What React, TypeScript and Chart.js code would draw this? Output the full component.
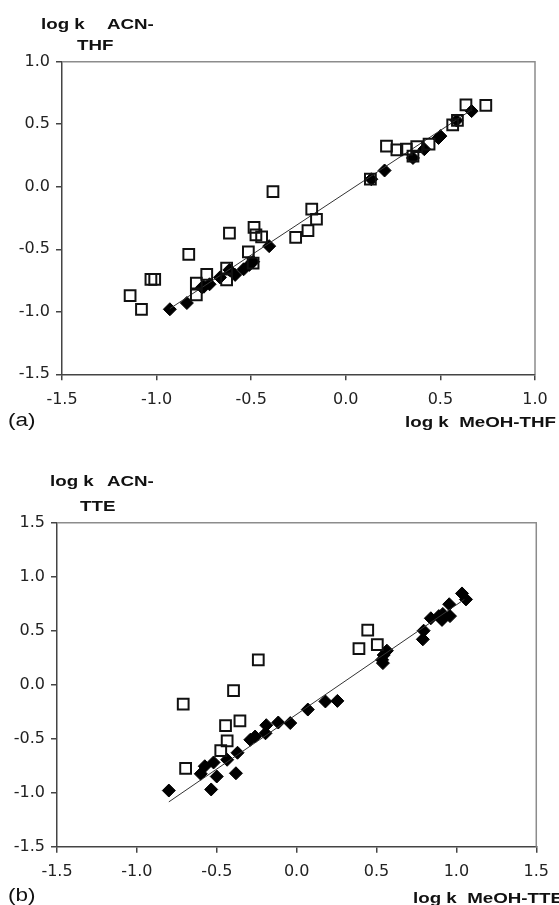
import React, { useEffect, useRef } from "react";
import { Chart, registerables } from "chart.js";

Chart.register(...registerables);

// ---------- Panel (a): log k ACN-THF vs log k MeOH-THF ----------
const aOpenX = [-1.14, -1.08, -1.03, -1.01, -0.83, -0.79, -0.735, -0.79, -0.615, -0.63, -0.63, -0.515, -0.485, -0.475, -0.445, -0.49, -0.385, -0.265, -0.18, -0.155, -0.2, 0.13, 0.215, 0.27, 0.32, 0.375, 0.355, 0.44, 0.565, 0.59, 0.635, 0.74];
const aOpenY = [-0.87, -0.98, -0.74, -0.74, -0.54, -0.77, -0.7, -0.865, -0.37, -0.65, -0.745, -0.52, -0.325, -0.385, -0.4, -0.61, -0.04, -0.405, -0.18, -0.26, -0.35, 0.06, 0.325, 0.295, 0.3, 0.32, 0.245, 0.34, 0.495, 0.53, 0.655, 0.65];
const aFilledX = [-0.93, -0.84, -0.76, -0.75, -0.72, -0.665, -0.615, -0.585, -0.54, -0.51, -0.49, -0.405, 0.135, 0.205, 0.355, 0.415, 0.49, 0.5, 0.585, 0.665];
const aFilledY = [-0.98, -0.93, -0.805, -0.8, -0.78, -0.725, -0.665, -0.705, -0.66, -0.625, -0.6, -0.475, 0.06, 0.13, 0.23, 0.3, 0.39, 0.405, 0.53, 0.605];
const aFitX = [-0.93, 0.665];
const aFitY = [-0.975, 0.615];
const aTicksX = [-1.5, -1.0, -0.5, 0.0, 0.5, 1.0];
const aTicksY = [-1.5, -1.0, -0.5, 0.0, 0.5, 1.0];

// ---------- Panel (b): log k ACN-TTE vs log k MeOH-TTE ----------
const bOpenX = [-0.71, -0.695, -0.24, -0.395, -0.355, -0.445, -0.435, -0.475, 0.445, 0.39, 0.505];
const bOpenY = [-0.18, -0.775, 0.23, -0.055, -0.335, -0.38, -0.52, -0.61, 0.505, 0.335, 0.37];
const bFilledX = [-0.8, -0.535, -0.6, -0.575, -0.52, -0.5, -0.435, -0.38, -0.37, -0.29, -0.26, -0.195, -0.19, -0.115, -0.04, 0.07, 0.18, 0.255, 0.535, 0.545, 0.565, 0.54, 0.79, 0.795, 0.84, 0.89, 0.91, 0.915, 0.96, 0.955, 1.035, 1.06];
const bFilledY = [-0.98, -0.97, -0.825, -0.755, -0.72, -0.85, -0.695, -0.82, -0.63, -0.51, -0.48, -0.45, -0.375, -0.35, -0.355, -0.23, -0.155, -0.15, 0.23, 0.275, 0.315, 0.2, 0.42, 0.5, 0.615, 0.635, 0.6, 0.655, 0.635, 0.745, 0.845, 0.79];
const bFitX = [-0.8, 1.05];
const bFitY = [-1.085, 0.79];
const bTicksX = [-1.5, -1.0, -0.5, 0.0, 0.5, 1.0, 1.5];
const bTicksY = [-1.5, -1.0, -0.5, 0.0, 0.5, 1.0, 1.5];

const SX = 1.25; // horizontal stretch of the original lettering

type TextItem = { text: string; x: number; y: number; size: number; bold: boolean; align: "left" | "right" };

const aTexts: TextItem[] = [
  { text: "log k", x: 41, y: 29, size: 15, bold: true, align: "left" },
  { text: "ACN-", x: 107, y: 29, size: 15, bold: true, align: "left" },
  { text: "THF", x: 77, y: 50, size: 15, bold: true, align: "left" },
  { text: "(a)", x: 8, y: 426, size: 18, bold: false, align: "left" },
  { text: "log k  MeOH-THF", x: 556, y: 427, size: 15, bold: true, align: "right" },
];
const bTexts: TextItem[] = [
  { text: "log k", x: 50, y: 36, size: 15, bold: true, align: "left" },
  { text: "ACN-", x: 107, y: 36, size: 15, bold: true, align: "left" },
  { text: "TTE", x: 80, y: 61, size: 15, bold: true, align: "left" },
  { text: "(b)", x: 8, y: 451, size: 18, bold: false, align: "left" },
  { text: "log k  MeOH-TTE", x: 413, y: 453, size: 15, bold: true, align: "left" },
];

function pts(xs: number[], ys: number[]) {
  return xs.map((x, i) => ({ x, y: ys[i] }));
}

function makeTextPlugin(items: TextItem[]) {
  return {
    id: "panelTexts",
    afterDraw(chart: any) {
      const ctx = chart.ctx as CanvasRenderingContext2D;
      const { top, left, right, bottom } = chart.chartArea;
      ctx.save();
      ctx.strokeStyle = "#8c8c8c";
      ctx.lineWidth = 1.5;
      ctx.beginPath();
      ctx.moveTo(left, top);
      ctx.lineTo(right, top);
      ctx.lineTo(right, bottom);
      ctx.stroke();
      for (const t of items) {
        ctx.save();
        ctx.font = `${t.bold ? "bold " : ""}${t.size}px "Liberation Sans", Arial, sans-serif`;
        ctx.fillStyle = "#111";
        ctx.textBaseline = "alphabetic";
        ctx.textAlign = "left";
        const w = ctx.measureText(t.text).width * SX;
        const x0 = t.align === "right" ? t.x - w : t.x;
        ctx.translate(x0, t.y);
        ctx.scale(SX, 1);
        ctx.fillText(t.text, 0, 0);
        ctx.restore();
      }
      ctx.restore();
    },
  };
}

type PanelSpec = {
  top: number;
  height: number;
  openX: number[];
  openY: number[];
  filledX: number[];
  filledY: number[];
  fitX: number[];
  fitY: number[];
  ticksX: number[];
  ticksY: number[];
  yAxisWidth: number;
  xAxisHeight: number;
  padTop: number;
  padRight: number;
  texts: TextItem[];
};

const tickFont = { family: '"DejaVu Sans", sans-serif', size: 16 };

function Panel({ spec }: { spec: PanelSpec }) {
  const ref = useRef<HTMLCanvasElement | null>(null);
  useEffect(() => {
    if (!ref.current) return;
    const chart = new Chart(ref.current, {
      type: "scatter",
      data: {
        datasets: [
          {
            label: "open",
            data: pts(spec.openX, spec.openY),
            pointStyle: "rect",
            pointRadius: 7.6,
            backgroundColor: "rgba(255,255,255,0)",
            borderColor: "#111",
            borderWidth: 2,
            order: 0,
          },
          {
            label: "fit",
            data: pts(spec.fitX, spec.fitY),
            showLine: true,
            pointRadius: 0,
            borderColor: "#333",
            borderWidth: 1,
            fill: false,
            order: 1,
          },
          {
            label: "filled",
            data: pts(spec.filledX, spec.filledY),
            pointStyle: "rectRot",
            pointRadius: 6.5,
            backgroundColor: "#000",
            borderColor: "#000",
            borderWidth: 1,
            order: 2,
          },
        ],
      },
      options: {
        animation: false,
        responsive: false,
        maintainAspectRatio: false,
        layout: { padding: { left: 0, right: spec.padRight, top: spec.padTop, bottom: 0 } },
        plugins: { legend: { display: false }, tooltip: { enabled: false } },
        scales: {
          x: {
            type: "linear",
            min: spec.ticksX[0],
            max: spec.ticksX[spec.ticksX.length - 1],
            afterBuildTicks: (s: any) => {
              s.ticks = spec.ticksX.map((v) => ({ value: v }));
            },
            afterFit: (s: any) => {
              s.height = spec.xAxisHeight;
            },
            ticks: {
              font: tickFont,
              color: "#222",
              padding: 10,
              maxRotation: 0,
              autoSkip: false,
              callback: (v: any) => Number(v).toFixed(1),
            },
            grid: { drawOnChartArea: false, drawTicks: true, tickLength: 6, color: "#444", lineWidth: 1.5 },
            border: { display: true, color: "#444", width: 1.5 },
          },
          y: {
            type: "linear",
            min: spec.ticksY[0],
            max: spec.ticksY[spec.ticksY.length - 1],
            afterBuildTicks: (s: any) => {
              s.ticks = spec.ticksY.map((v) => ({ value: v }));
            },
            afterFit: (s: any) => {
              s.width = spec.yAxisWidth;
            },
            ticks: {
              font: tickFont,
              color: "#222",
              padding: 6,
              autoSkip: false,
              callback: (v: any) => Number(v).toFixed(1),
            },
            grid: { drawOnChartArea: false, drawTicks: true, tickLength: 6, color: "#444", lineWidth: 1.5 },
            border: { display: true, color: "#444", width: 1.5 },
          },
        },
      },
      plugins: [makeTextPlugin(spec.texts)],
    } as any);
    return () => chart.destroy();
  }, [spec]);
  return (
    <canvas
      ref={ref}
      width={559}
      height={spec.height}
      style={{ position: "absolute", left: 0, top: spec.top, width: 559, height: spec.height }}
    />
  );
}

const specA: PanelSpec = {
  top: 0,
  height: 450,
  openX: aOpenX,
  openY: aOpenY,
  filledX: aFilledX,
  filledY: aFilledY,
  fitX: aFitX,
  fitY: aFitY,
  ticksX: aTicksX,
  ticksY: aTicksY,
  yAxisWidth: 62,
  xAxisHeight: 75.7,
  padTop: 61.7,
  padRight: 24,
  texts: aTexts,
};

const specB: PanelSpec = {
  top: 450,
  height: 455,
  openX: bOpenX,
  openY: bOpenY,
  filledX: bFilledX,
  filledY: bFilledY,
  fitX: bFitX,
  fitY: bFitY,
  ticksX: bTicksX,
  ticksY: bTicksY,
  yAxisWidth: 57,
  xAxisHeight: 58.3,
  padTop: 72.7,
  padRight: 19,
  texts: bTexts,
};

export default function App() {
  return (
    <div style={{ position: "absolute", left: 0, top: 0, width: 559, height: 905, background: "#fff", overflow: "hidden" }}>
      <Panel spec={specA} />
      <Panel spec={specB} />
    </div>
  );
}
